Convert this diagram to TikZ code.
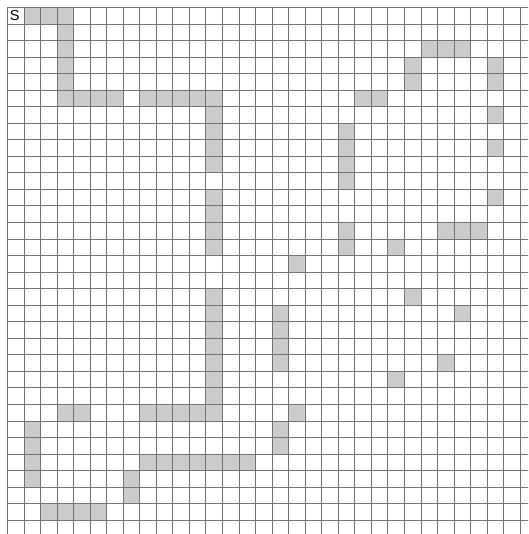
\documentclass[tikz,border=0pt]{standalone}
\usepackage{fontspec}
\setmainfont{Liberation Sans}
\usetikzlibrary{positioning}
\definecolor{wallgray}{HTML}{CCCCCC}
\definecolor{linegray}{HTML}{737373}
\tikzset{
  wall/.style={fill=wallgray},
  gridline/.style={draw=linegray, line width=0.55pt},
}
\begin{document}
\begin{tikzpicture}[x=0.5cm, y=-0.5cm]
  \useasboundingbox (-0.441,-0.441) rectangle (31.48,31.84);
  \clip (-0.441,-0.441) rectangle (31.48,31.84);
  \fill[white] (-0.441,-0.441) rectangle (31.48,31.84);
  % horizontal runs: row / first column / last column
  \foreach \r/\a/\b in {0/1/3, 5/3/6, 5/8/12, 5/21/22, 2/25/27, 13/26/28,
                        24/3/4, 24/8/12, 27/8/14, 30/2/5}
    \foreach \c in {\a,...,\b}
      \fill[wall] (\c,\r) rectangle ++(1,1);
  % vertical runs: column / first row / last row
  \foreach \c/\a/\b in {3/1/4, 12/6/9, 12/11/14, 12/17/23, 20/7/10, 20/13/14,
                        24/3/4, 29/3/4, 16/18/21, 16/25/26, 1/25/28, 7/28/29}
    \foreach \r in {\a,...,\b}
      \fill[wall] (\c,\r) rectangle ++(1,1);
  % single cells
  \foreach \c/\r in {29/6, 29/8, 29/11, 23/14, 17/15, 24/17, 27/18,
                     26/21, 23/22, 17/24}
    \fill[wall] (\c,\r) rectangle ++(1,1);
  % grid
  \foreach \i in {0,...,33} {
    \draw[gridline] (\i,0) -- (\i,33);
    \draw[gridline] (0,\i) -- (33,\i);
  }
  \node[font=\fontsize{12.5}{14}\selectfont, inner sep=0pt] (start) at (0.45,0.5) {S};
\end{tikzpicture}
\end{document}
